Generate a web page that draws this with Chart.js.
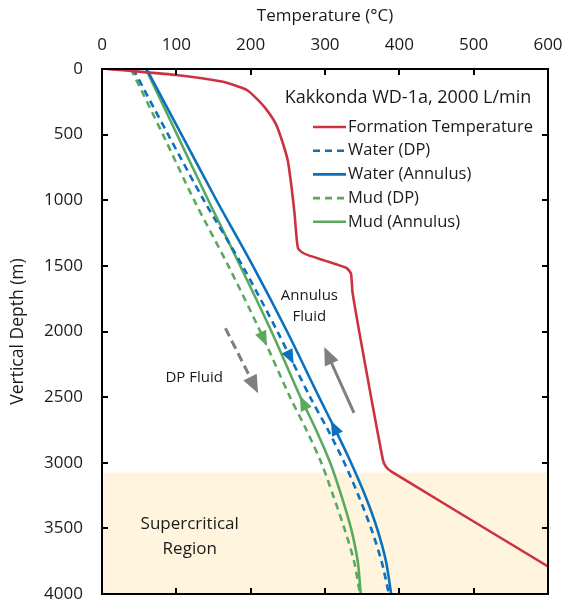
<!DOCTYPE html>
<html>
<head>
<meta charset="utf-8">
<script src="https://cdn.jsdelivr.net/npm/chart.js@4/dist/chart.umd.min.js"></script>
<style>
  html, body { margin: 0; padding: 0; background: #fff; }
</style>
</head>
<body>
<canvas id="chart" width="566" height="602"></canvas>
<script>
// Depth (m) for the fluid profiles
const profileDepths = [0, 500, 1000, 1500, 2000, 2500, 2750, 3000, 3250, 3500, 3750, 4000];
const waterDP      = [42, 89, 137, 189, 236, 280, 304, 326, 345, 362, 376, 386];
const waterAnnulus = [60, 107, 154, 203, 249, 292, 314, 335, 354, 370, 382, 389];
const mudDP        = [39, 82, 124, 170, 213, 253, 275, 295, 311, 326, 339, 347];
const mudAnnulus   = [59, 101, 143, 186, 228, 267, 288, 307, 322, 335, 344, 348];

// Formation temperature profile
const formationDepths = [0, 20, 46, 97, 135, 160, 220, 300, 420, 560, 700, 900, 1100, 1300, 1370, 1400, 1420, 1460, 1516, 1560, 1700, 2000, 2500, 2980, 3030, 3070, 3790];
const formationTemps  = [6, 50, 100, 163, 184, 195, 207, 220, 234, 243, 250, 255, 259, 262, 264, 270, 278, 300, 329, 335, 337, 346, 362, 378, 382, 390, 600];

const xTicks = [0, 100, 200, 300, 400, 500, 600];
const yTicks = [0, 500, 1000, 1500, 2000, 2500, 3000, 3500, 4000];
const supercriticalTop = 3075;

const RED = '#CC3340';
const BLUE = '#0A70C0';
const GREEN = '#5AAA5E';
const GRAY = '#7F7F7F';
const TEXT = '#1a1a1a';
const FONT = '"Open Sans", "Noto Sans", sans-serif';

function toPoints(temps, depths) {
  return temps.map((t, i) => ({ x: t, y: depths[i] }));
}

function tempAt(temps, depths, d) {
  for (let i = 1; i < depths.length; i++) {
    if (d <= depths[i]) {
      const f = (d - depths[i - 1]) / (depths[i] - depths[i - 1]);
      return temps[i - 1] + f * (temps[i] - temps[i - 1]);
    }
  }
  return temps[temps.length - 1];
}

function line(label, temps, depths, color, dashed, tension) {
  return {
    label: label,
    data: toPoints(temps, depths),
    borderColor: color,
    backgroundColor: color,
    borderWidth: 2.6,
    borderDash: dashed ? [7, 5] : [],
    showLine: true,
    pointRadius: 0,
    tension: tension,
    _temps: temps,
    _depths: depths
  };
}

// arrowheads on the fluid lines: [dataset index, tip depth, direction]
const flowArrows = [[3, 2110, 1], [1, 2250, 1], [4, 2490, -1], [2, 2680, -1]];

function drawHead(ctx, x0, y0, x1, y1, color, len, half) {
  const ang = Math.atan2(y1 - y0, x1 - x0);
  ctx.save();
  ctx.fillStyle = color;
  ctx.translate(x1, y1);
  ctx.rotate(ang);
  ctx.beginPath();
  ctx.moveTo(0, 0);
  ctx.lineTo(-len, -half);
  ctx.lineTo(-len, half);
  ctx.closePath();
  ctx.fill();
  ctx.restore();
}

function grayArrow(ctx, x, y, from, to, dashed) {
  const x0 = x.getPixelForValue(from[0]), y0 = y.getPixelForValue(from[1]);
  const x1 = x.getPixelForValue(to[0]), y1 = y.getPixelForValue(to[1]);
  const ang = Math.atan2(y1 - y0, x1 - x0);
  ctx.strokeStyle = GRAY;
  ctx.lineWidth = 3;
  ctx.setLineDash(dashed ? [9, 5] : []);
  ctx.beginPath();
  ctx.moveTo(x0, y0);
  ctx.lineTo(x1 - 14 * Math.cos(ang), y1 - 14 * Math.sin(ang));
  ctx.stroke();
  ctx.setLineDash([]);
  drawHead(ctx, x0, y0, x1, y1, GRAY, 18, 7.5);
}

const figurePlugin = {
  id: 'figure',
  beforeDatasetsDraw(chart) {
    const { ctx, chartArea: a, scales: { y } } = chart;
    const top = y.getPixelForValue(supercriticalTop);
    ctx.save();
    ctx.fillStyle = '#FFF5DF';
    ctx.fillRect(a.left, top, a.right - a.left, a.bottom - top);
    ctx.restore();
  },
  afterDatasetsDraw(chart) {
    const { ctx, chartArea: a, scales: { x, y } } = chart;
    ctx.save();

    // frame and inward ticks
    ctx.strokeStyle = '#000';
    ctx.lineWidth = 2;
    ctx.strokeRect(a.left, a.top, a.right - a.left, a.bottom - a.top);
    ctx.beginPath();
    xTicks.forEach(v => {
      const px = Math.round(x.getPixelForValue(v));
      ctx.moveTo(px, a.top); ctx.lineTo(px, a.top + 6);
      ctx.moveTo(px, a.bottom); ctx.lineTo(px, a.bottom - 6);
    });
    yTicks.forEach(v => {
      const py = Math.round(y.getPixelForValue(v));
      ctx.moveTo(a.left, py); ctx.lineTo(a.left + 6, py);
      ctx.moveTo(a.right, py); ctx.lineTo(a.right - 6, py);
    });
    ctx.stroke();

    // tick labels and axis titles
    ctx.fillStyle = TEXT;
    ctx.textBaseline = 'middle';
    ctx.font = '17px ' + FONT;
    ctx.textAlign = 'center';
    xTicks.forEach(v => ctx.fillText(String(v), x.getPixelForValue(v), a.top - 24));
    ctx.textAlign = 'right';
    yTicks.forEach(v => ctx.fillText(String(v), a.left - 19, y.getPixelForValue(v)));
    ctx.textAlign = 'center';
    ctx.fillText('Temperature (°C)', (a.left + a.right) / 2, 16);
    ctx.save();
    ctx.translate(18, (a.top + a.bottom) / 2);
    ctx.rotate(-Math.PI / 2);
    ctx.font = '17.5px ' + FONT;
    ctx.fillText('Vertical Depth (m)', 0, 0);
    ctx.restore();

    // flow direction arrowheads on the lines
    flowArrows.forEach(([idx, d, dir]) => {
      const ds = chart.data.datasets[idx];
      const d0 = d - 60 * dir;
      const px0 = x.getPixelForValue(tempAt(ds._temps, ds._depths, d0));
      const py0 = y.getPixelForValue(d0);
      const px1 = x.getPixelForValue(tempAt(ds._temps, ds._depths, d));
      const py1 = y.getPixelForValue(d);
      drawHead(ctx, px0, py0, px1, py1, ds.borderColor, 15, 6);
    });

    // gray guide arrows
    grayArrow(ctx, x, y, [166, 1975], [210, 2470], true);
    grayArrow(ctx, x, y, [339, 2620], [299, 2118], false);

    // annotations
    ctx.fillStyle = TEXT;
    ctx.textAlign = 'center';
    ctx.textBaseline = 'middle';
    ctx.font = '15px ' + FONT;
    ctx.fillText('Annulus', x.getPixelForValue(279), y.getPixelForValue(1730));
    ctx.fillText('Fluid', x.getPixelForValue(279), y.getPixelForValue(1890));
    ctx.fillText('DP Fluid', x.getPixelForValue(124), y.getPixelForValue(2354));
    ctx.font = '17px ' + FONT;
    ctx.fillText('Supercritical', x.getPixelForValue(118), y.getPixelForValue(3467));
    ctx.fillText('Region', x.getPixelForValue(118), y.getPixelForValue(3657));

    // title and legend
    ctx.font = '18px ' + FONT;
    ctx.fillText('Kakkonda WD-1a, 2000 L/min', a.left + 306, a.top + 29);
    ctx.textAlign = 'left';
    ctx.font = '16.5px ' + FONT;
    chart.data.datasets.forEach((ds, i) => {
      const ly = a.top + 58 + i * 23.7;
      ctx.strokeStyle = ds.borderColor;
      ctx.lineWidth = 2.6;
      ctx.setLineDash(ds.borderDash);
      ctx.beginPath();
      ctx.moveTo(a.left + 211, ly);
      ctx.lineTo(a.left + 244, ly);
      ctx.stroke();
      ctx.setLineDash([]);
      ctx.fillStyle = TEXT;
      ctx.fillText(ds.label, a.left + 246, ly);
    });
    ctx.restore();
  }
};

new Chart(document.getElementById('chart'), {
  type: 'scatter',
  data: {
    datasets: [
      line('Formation Temperature', formationTemps, formationDepths, RED, false, 0.15),
      line('Water (DP)', waterDP, profileDepths, BLUE, true, 0.3),
      line('Water (Annulus)', waterAnnulus, profileDepths, BLUE, false, 0.3),
      line('Mud (DP)', mudDP, profileDepths, GREEN, true, 0.3),
      line('Mud (Annulus)', mudAnnulus, profileDepths, GREEN, false, 0.3)
    ]
  },
  options: {
    responsive: false,
    animation: false,
    layout: { padding: { left: 0, top: 0, right: 18, bottom: 8 } },
    plugins: { legend: { display: false }, tooltip: { enabled: false } },
    scales: {
      x: {
        type: 'linear',
        position: 'top',
        min: 0, max: 600,
        afterBuildTicks: s => { s.ticks = xTicks.map(v => ({ value: v })); },
        afterFit: s => { s.height = 69; },
        grid: { display: false, drawTicks: false },
        border: { display: false },
        ticks: { display: false }
      },
      y: {
        type: 'linear',
        reverse: true,
        min: 0, max: 4000,
        afterBuildTicks: s => { s.ticks = yTicks.map(v => ({ value: v })); },
        afterFit: s => { s.width = 102; },
        grid: { display: false, drawTicks: false },
        border: { display: false },
        ticks: { display: false }
      }
    }
  },
  plugins: [figurePlugin]
});
</script>
</body>
</html>
